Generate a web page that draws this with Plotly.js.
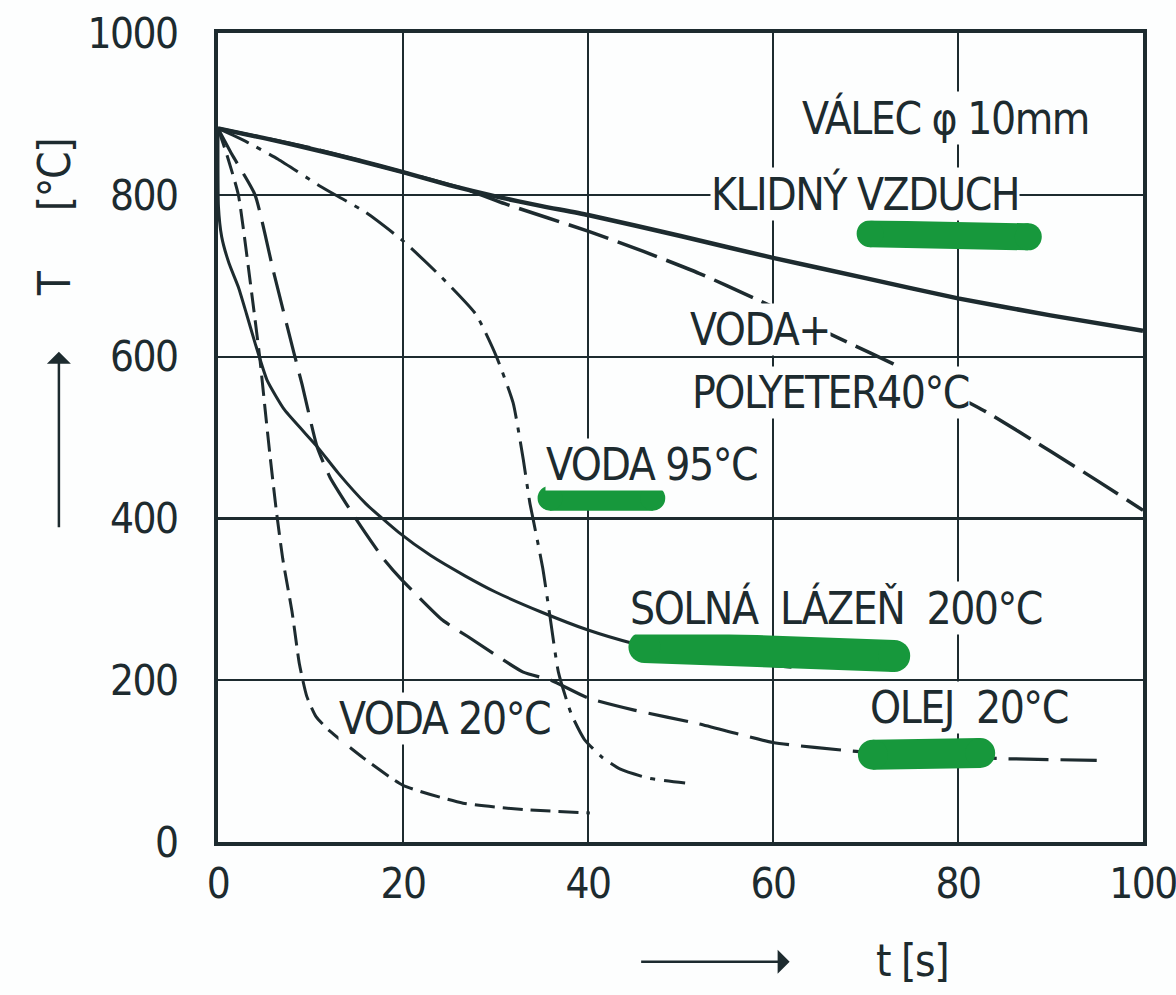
<!DOCTYPE html>
<html>
<head>
<meta charset="utf-8">
<script src="https://cdn.plot.ly/plotly-3.0.1.min.js"></script>
<style>
html,body{margin:0;padding:0;background:#fdfefe;}
#chart{width:1176px;height:995px;}
svg text{letter-spacing:-1.5px;}
</style>
</head>
<body>
<div id="chart"></div>
<script>
// ---- data (time in s, temperature in °C) ----
const xTicks = [0, 20, 40, 60, 80, 100];
const yTicks = [0, 200, 400, 600, 800, 1000];

// KLIDNÝ VZDUCH (still air)
const airT = [0, 5, 10, 15, 20, 25, 30, 35, 40, 50, 60, 70, 80, 90, 100];
const airY = [882, 870, 857, 843, 828, 812, 798, 786, 775, 749, 722, 697, 672, 651, 632];

// VODA + POLYETER 40 °C
const polyT = [0, 10, 20, 27, 31, 40, 46, 52, 58, 63, 68, 73, 78, 83, 90, 95, 100];
const polyY = [882, 858, 828, 806, 789, 755, 730, 703, 672, 645, 618, 591, 562, 532, 483, 447, 410];

// VODA 95 °C
const w95T = [0, 3, 6.5, 11, 16, 20, 24, 27.9, 30.1, 31.9, 33, 33.7, 34.05, 35.1, 35.9, 36.8, 38.2, 39.6, 41.5, 43.5, 46.5, 50.5];
const w95Y = [882, 866, 844, 811, 778, 743, 700, 652, 600, 543, 473, 420, 400, 339, 278, 210, 158, 127, 105, 90, 79, 73];

// SOLNÁ LÁZEŇ 200 °C
const saltT = [0, 0.05, 0.4, 1.2, 2.2, 3.1, 4.0, 5.3, 7.2, 10.7, 13, 16, 19.5, 23, 26.7, 30, 35, 40, 45, 50, 56, 62];
const saltY = [882, 785, 748, 715, 686, 652, 617, 571, 534, 489, 456, 418, 383, 354, 329, 309, 284, 262, 245, 232, 222, 216];

// OLEJ 20 °C
const oilT = [0, 1.5, 4, 6, 8.2, 9.1, 10.7, 12.1, 15, 17.9, 19.8, 24.3, 27, 33, 36, 40, 45, 52, 60, 69, 77, 85, 95];
const oilY = [882, 850, 800, 705, 605, 565, 489, 451, 398, 350, 325, 274, 254, 210, 200, 178, 163, 146, 123, 112, 107, 103, 101];

// VODA 20 °C
const w20T = [0, 1, 2.2, 3.4, 4.5, 5.1, 5.6, 6.3, 7.0, 8.0, 8.8, 9.6, 10.6, 12.1, 15.7, 20, 26.5, 33, 40.2];
const w20Y = [882, 848, 800, 700, 600, 534, 480, 410, 350, 285, 220, 180, 155, 137, 104, 70, 48, 40, 36];

// ---- styling ----
const INK = '#1d2b2f';
const BG = '#fdfefe';
const GREEN = '#17983c';
const FONT = 'DejaVu Sans Condensed, Liberation Sans Narrow, sans-serif';

function curve(x, y, width, dash) {
  return {x: x, y: y, type: 'scatter', mode: 'lines', hoverinfo: 'skip', showlegend: false,
          line: {color: INK, width: width, dash: dash, shape: 'spline', smoothing: 0.5}};
}

const traces = [
  curve(airT, airY, 4.5, 'solid'),
  curve(polyT, polyY, 3.5, '42px,10px'),
  curve(w95T, w95Y, 3, '34px,9px,5px,9px'),
  curve(saltT, saltY, 3, 'solid'),
  curve(oilT, oilY, 3.2, '40px,12px'),
  curve(w20T, w20Y, 3, '20px,8px')
];

// green highlighter strokes (round ends)
function stroke(x0, y0, x1, y1, w) {
  const r = w / 2;
  const base = {type: 'circle', xref: 'x', yref: 'y', xsizemode: 'pixel', ysizemode: 'pixel',
                x0: -r, x1: r, y0: -r, y1: r, fillcolor: GREEN, line: {width: 0}, layer: 'above'};
  return [
    {type: 'line', xref: 'x', yref: 'y', x0: x0, y0: y0, x1: x1, y1: y1, line: {color: GREEN, width: w}, layer: 'above'},
    Object.assign({}, base, {xanchor: x0, yanchor: y0}),
    Object.assign({}, base, {xanchor: x1, yanchor: y1})
  ];
}
const shapes = [].concat(
  stroke(70.5, 752, 87.6, 748, 27),
  stroke(35.9, 425, 47.0, 425, 25),
  stroke(46.1, 241, 73.1, 230, 32),
  stroke(70.8, 108, 82.4, 110, 30)
);

function label(text, x, y) {
  return {text: text, x: x, y: y, xref: 'x', yref: 'y', xanchor: 'left', yanchor: 'middle',
          showarrow: false, bgcolor: BG, borderpad: 0, font: {family: FONT, size: 44, color: INK}};
}
const NB = '\u00a0';
const annotations = [
  label('VÁLEC φ 10mm', 63, 895),
  label('KLIDNÝ VZDUCH', 53.2, 801),
  label('VODA+', 50.9, 634),
  label('POLYETER40°C', 51.1, 556),
  label('VODA 95°C', 35.3, 467),
  label('SOLNÁ', 44.4, 289),
  label('LÁZEŇ' + NB + NB + '200°C', 60.6, 289),
  label('OLEJ' + NB + NB + '20°C', 70.4, 166),
  label('VODA 20°C', 13.0, 153),
  // axis titles
  {text: '[°C]', xref: 'paper', yref: 'paper', x: -0.176, y: 0.8245, xanchor: 'center', yanchor: 'middle',
   textangle: -90, showarrow: false, font: {family: FONT, size: 44, color: INK}},
  {text: 'T', xref: 'paper', yref: 'paper', x: -0.176, y: 0.691, xanchor: 'center', yanchor: 'middle',
   textangle: -90, showarrow: false, font: {family: FONT, size: 44, color: INK}},
  {text: 't [s]', xref: 'paper', yref: 'paper', x: 0.750, y: -0.146, xanchor: 'center', yanchor: 'middle',
   showarrow: false, font: {family: FONT, size: 44, color: INK}},
  // arrows
  {text: '', xref: 'paper', yref: 'paper', x: -0.172, y: 0.606, ax: 0, ay: 177, showarrow: true,
   arrowhead: 1, arrowsize: 1.6, arrowwidth: 2.5, arrowcolor: INK, standoff: 0},
  {text: '', xref: 'paper', yref: 'paper', x: 0.618, y: -0.148, ax: -150, ay: 0, showarrow: true,
   arrowhead: 1, arrowsize: 1.6, arrowwidth: 2.5, arrowcolor: INK, standoff: 0}
];

const axisCommon = {showline: true, mirror: true, linecolor: INK, linewidth: 4,
  showgrid: true, gridcolor: INK, gridwidth: 2.2, zeroline: false, ticks: '',
  tickfont: {family: FONT, size: 42, color: INK}, fixedrange: true};

const layout = {
  width: 1176, height: 995,
  margin: {l: 218, r: 33, t: 33, b: 153},
  paper_bgcolor: BG, plot_bgcolor: BG,
  showlegend: false,
  xaxis: Object.assign({}, axisCommon, {range: [0, 100], tickvals: xTicks, ticktext: xTicks.map(String),
                                        ticklabelstandoff: 2, ticklabeloverflow: 'allow'}),
  yaxis: Object.assign({}, axisCommon, {range: [0, 1000], tickvals: yTicks, ticktext: yTicks.map(String),
                                        ticklabelstandoff: 28, ticklabeloverflow: 'allow'}),
  shapes: shapes,
  annotations: annotations
};

Plotly.newPlot('chart', traces, layout, {staticPlot: true, displayModeBar: false});
</script>
</body>
</html>
